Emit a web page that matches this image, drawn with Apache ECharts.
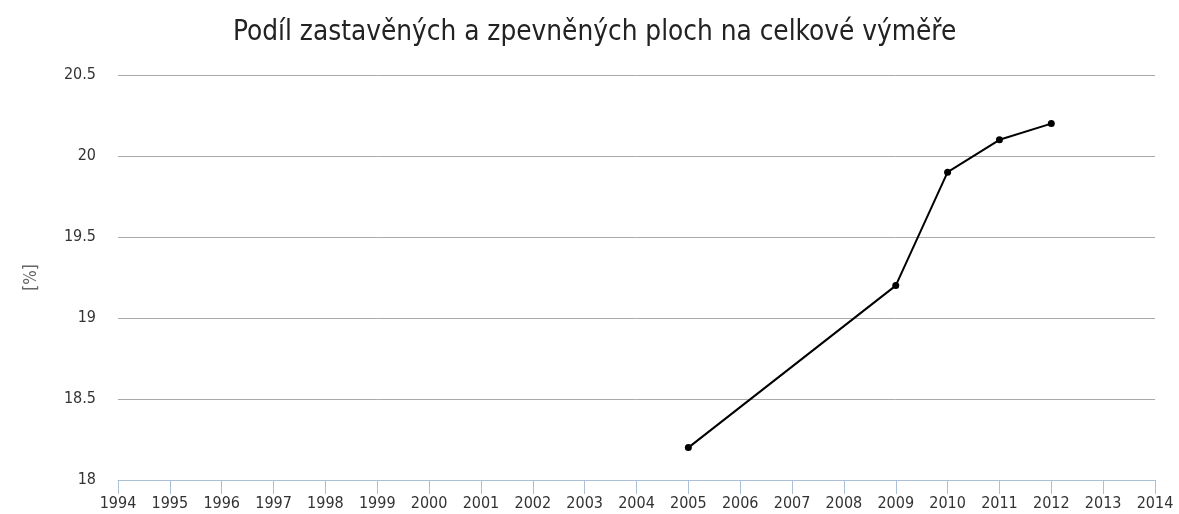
<!DOCTYPE html>
<html>
<head>
<meta charset="utf-8">
<script src="https://cdn.jsdelivr.net/npm/echarts@6/dist/echarts.min.js"></script>
<style>
  html, body { margin: 0; padding: 0; background: #fff; }
  #chart { width: 1179px; height: 514px; }
</style>
</head>
<body>
<div id="chart"></div>
<script>
var years = ['1994','1995','1996','1997','1998','1999','2000','2001','2002','2003','2004',
             '2005','2006','2007','2008','2009','2010','2011','2012','2013','2014'];
var share = [null,null,null,null,null,null,null,null,null,null,null,
             18.2,null,null,null,19.2,19.9,20.1,20.2,null,null];

var chart = echarts.init(document.getElementById('chart'));
var option = {
    backgroundColor: '#fff',
    title: {
        text: 'Podíl zastavěných a zpevněných ploch na celkové výměře',
        left: 228,
        top: 14,
        textStyle: {
            fontFamily: 'DejaVu Sans Condensed',
            fontSize: 27.7,
            fontWeight: 'normal',
            color: '#222'
        }
    },
    grid: {
        left: 118,
        right: 24,
        top: 75,
        bottom: 34
    },
    xAxis: {
        type: 'category',
        data: years,
        boundaryGap: false,
        axisLine: { lineStyle: { color: '#a9c0d6', width: 1 } },
        axisTick: { show: true, length: 14, lineStyle: { color: '#a9c0d6' } },
        axisLabel: {
            margin: 16,
            fontFamily: 'DejaVu Sans Condensed',
            fontSize: 16,
            color: '#333',
            interval: 0
        },
        splitLine: { show: false }
    },
    yAxis: {
        type: 'value',
        min: 18,
        max: 20.5,
        interval: 0.5,
        name: '[%]',
        nameLocation: 'middle',
        nameGap: 78,
        nameTextStyle: {
            fontFamily: 'DejaVu Sans Condensed',
            fontSize: 17,
            color: '#666'
        },
        axisLine: { show: false },
        axisTick: { show: false },
        axisLabel: {
            margin: 22,
            fontFamily: 'DejaVu Sans Condensed',
            fontSize: 16,
            color: '#333'
        },
        splitLine: { lineStyle: { color: '#aaaaaa', width: 1 } }
    },
    series: [
        {
            type: 'line',
            data: share,
            connectNulls: true,
            symbol: 'circle',
            symbolSize: 7,
            itemStyle: { color: '#000' },
            lineStyle: { color: '#000', width: 2 },
            animation: false
        }
    ]
};
chart.setOption(option);
window.onresize = chart.resize;
</script>
</body>
</html>
